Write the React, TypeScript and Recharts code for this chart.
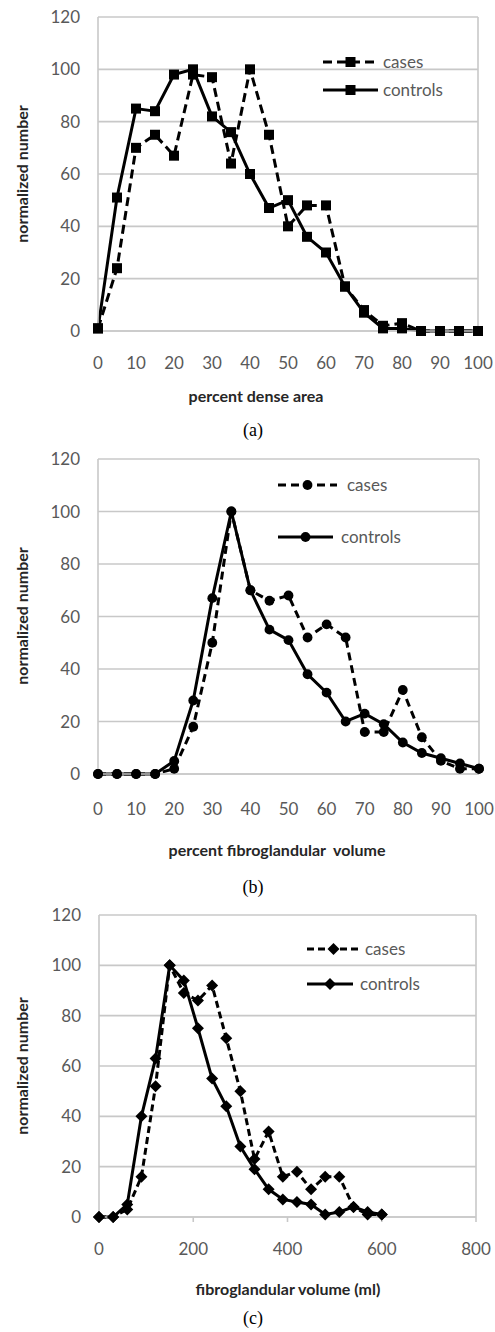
import React from "react";
import {
  LineChart,
  Line,
  XAxis,
  YAxis,
  CartesianGrid,
  ReferenceLine,
  Legend,
} from "recharts";

// (a) percent dense area
const denseArea = [0, 5, 10, 15, 20, 25, 30, 35, 40, 45, 50, 55, 60, 65, 70, 75, 80, 85, 90, 95, 100];
const denseCases = [1, 24, 70, 75, 67, 98, 97, 64, 100, 75, 40, 48, 48, 17, 8, 2, 3, 0, 0, 0, 0];
const denseControls = [1, 51, 85, 84, 98, 100, 82, 76, 60, 47, 50, 36, 30, 17, 7, 1, 1, 0, 0, 0, 0];

// (b) percent fibroglandular volume
const fibroPct = [0, 5, 10, 15, 20, 25, 30, 35, 40, 45, 50, 55, 60, 65, 70, 75, 80, 85, 90, 95, 100];
const fibroCases = [0, 0, 0, 0, 2, 18, 50, 100, 70, 66, 68, 52, 57, 52, 16, 16, 32, 14, 5, 2, 2];
const fibroControls = [0, 0, 0, 0, 5, 28, 67, 100, 70, 55, 51, 38, 31, 20, 23, 19, 12, 8, 6, 4, 2];

// (c) fibroglandular volume (ml)
const volumeMl = [0, 30, 60, 90, 120, 150, 180, 210, 240, 270, 300, 330, 360, 390, 420, 450, 480, 510, 540, 570, 600];
const volumeCases = [0, 0, 3, 16, 52, 100, 89, 86, 92, 71, 50, 23, 34, 16, 18, 11, 16, 16, 4, 1, 1];
const volumeControls = [0, 0, 5, 40, 63, 100, 94, 75, 55, 44, 28, 19, 11, 7, 6, 5, 1, 2, 4, 2, 1];

const pctTicks = [0, 10, 20, 30, 40, 50, 60, 70, 80, 90, 100];
const mlTicks = [0, 200, 400, 600, 800];
const yTicks = [0, 20, 40, 60, 80, 100, 120];

const W = 495;
const FONT = "Lato, 'Open Sans', sans-serif";
const GRID = "#c8c8c8";

type Marker = "square" | "circle" | "diamond";

function mark(kind: Marker, cx: number, cy: number, key?: string) {
  if (kind === "square") {
    return <rect key={key} x={cx - 5} y={cy - 5} width={10} height={10} fill="#000" />;
  }
  if (kind === "circle") {
    return <circle key={key} cx={cx} cy={cy} r={4.9} fill="#000" />;
  }
  const s = 6;
  return (
    <polygon
      key={key}
      points={`${cx},${cy - s} ${cx + s},${cy} ${cx},${cy + s} ${cx - s},${cy}`}
      fill="#000"
    />
  );
}

interface LegendRow {
  x0: number;
  x1: number;
  tx: number;
  y: number;
}

interface PanelProps {
  top: number;
  height: number;
  plotTop: number;
  plotBottom: number;
  left: number;
  right: number;
  xs: number[];
  cases: number[];
  controls: number[];
  xMax: number;
  xTicks: number[];
  marker: Marker;
  dash: string;
  tickMargin: number;
  xTickLine: boolean;
  legendCases: LegendRow;
  legendControls: LegendRow;
  title: string;
  titleX: number;
  titleY: number;
  caption: string;
  captionY: number;
  yLabelY: number;
}

function Panel(p: PanelProps) {
  const rows = p.xs.map((x, i) => ({ x, cases: p.cases[i], controls: p.controls[i] }));
  const legend = () => (
    <svg width={W} height={p.height} style={{ display: "block" }}>
      {[
        { r: p.legendCases, dash: p.dash, label: "cases" },
        { r: p.legendControls, dash: undefined, label: "controls" },
      ].map((it) => (
        <g key={it.label}>
          <line
            x1={it.r.x0}
            x2={it.r.x1}
            y1={it.r.y}
            y2={it.r.y}
            stroke="#000"
            strokeWidth={3}
            strokeDasharray={it.dash}
          />
          {mark(p.marker, (it.r.x0 + it.r.x1) / 2, it.r.y)}
          <text
            x={it.r.tx}
            y={it.r.y + 6}
            fontSize={17}
            fontFamily={FONT}
            fill="#595959"
          >
            {it.label}
          </text>
        </g>
      ))}
    </svg>
  );

  return (
    <div style={{ position: "absolute", left: 0, top: p.top, width: W, height: p.height }}>
      <LineChart
        width={W}
        height={p.height}
        data={rows}
        margin={{ top: p.plotTop, right: p.right, left: 0, bottom: 0 }}
      >
        <CartesianGrid vertical={false} stroke={GRID} strokeWidth={1.6} />
        <XAxis
          dataKey="x"
          type="number"
          domain={[0, p.xMax]}
          ticks={p.xTicks}
          interval={0}
          height={p.height - p.plotBottom}
          axisLine={{ stroke: GRID, strokeWidth: 1.6 }}
          tickLine={p.xTickLine ? { stroke: GRID, strokeWidth: 1.6 } : false}
          tickSize={p.xTickLine ? 5 : 6}
          tickMargin={p.tickMargin}
          tick={{ fontSize: 17, fill: "#595959", fontFamily: FONT }}
        />
        <YAxis
          type="number"
          domain={[0, 120]}
          ticks={yTicks}
          interval={0}
          width={p.left}
          axisLine={{ stroke: GRID, strokeWidth: 1.6 }}
          tickLine={false}
          tickMargin={12}
          tick={{ fontSize: 17, fill: "#595959", fontFamily: FONT }}
        />
        <ReferenceLine x={p.xMax} stroke={GRID} strokeWidth={1.6} />
        <Legend
          layout="horizontal"
          verticalAlign="middle"
          align="center"
          content={legend}
          wrapperStyle={{ position: "absolute", left: 0, top: 0, width: W, height: p.height, pointerEvents: "none" }}
        />
        <Line
          dataKey="cases"
          stroke="#000"
          strokeWidth={3}
          strokeDasharray={p.dash}
          isAnimationActive={false}
          dot={(d: any) => mark(p.marker, d.cx, d.cy, `c-${d.index}`)}
        />
        <Line
          dataKey="controls"
          stroke="#000"
          strokeWidth={3}
          isAnimationActive={false}
          dot={(d: any) => mark(p.marker, d.cx, d.cy, `k-${d.index}`)}
        />
      </LineChart>
      <div
        style={{
          position: "absolute",
          left: 21,
          top: p.yLabelY,
          transform: "translate(-50%, -50%) rotate(-90deg)",
          whiteSpace: "nowrap",
          fontFamily: FONT,
          fontWeight: 700,
          fontSize: 16,
          color: "#262626",
        }}
      >
        normalized number
      </div>
      <div
        style={{
          position: "absolute",
          left: p.titleX,
          top: p.titleY,
          transform: "translate(-50%, -50%)",
          whiteSpace: "pre",
          fontFamily: FONT,
          fontWeight: 700,
          fontSize: 16,
          color: "#262626",
        }}
      >
        {p.title}
      </div>
      <div
        style={{
          position: "absolute",
          left: 253,
          top: p.captionY,
          transform: "translate(-50%, -50%)",
          fontFamily: "'Liberation Serif', serif",
          fontSize: 18,
          color: "#000",
        }}
      >
        {p.caption}
      </div>
    </div>
  );
}

export default function App() {
  return (
    <div style={{ position: "absolute", left: 0, top: 0, width: W, height: 1332, background: "#fff" }}>
      <Panel
        top={0}
        height={440}
        plotTop={17}
        plotBottom={331}
        left={98}
        right={17}
        xs={denseArea}
        cases={denseCases}
        controls={denseControls}
        xMax={100}
        xTicks={pctTicks}
        marker="square"
        dash="9 5"
        tickMargin={20}
        xTickLine={false}
        legendCases={{ x0: 323, x1: 378, tx: 383, y: 62 }}
        legendControls={{ x0: 323, x1: 378, tx: 383, y: 90 }}
        title="percent dense area"
        titleX={256}
        titleY={395}
        caption="(a)"
        captionY={430}
        yLabelY={174}
      />
      <Panel
        top={440}
        height={455}
        plotTop={19}
        plotBottom={334}
        left={98}
        right={16}
        xs={fibroPct}
        cases={fibroCases}
        controls={fibroControls}
        xMax={100}
        xTicks={pctTicks}
        marker="circle"
        dash="8 5"
        tickMargin={23}
        xTickLine={false}
        legendCases={{ x0: 278, x1: 337, tx: 347, y: 45 }}
        legendControls={{ x0: 278, x1: 333, tx: 341, y: 97 }}
        title={"percent fibroglandular  volume"}
        titleX={277}
        titleY={409}
        caption="(b)"
        captionY={447}
        yLabelY={176}
      />
      <Panel
        top={895}
        height={437}
        plotTop={20}
        plotBottom={322}
        left={99}
        right={19}
        xs={volumeMl}
        cases={volumeCases}
        controls={volumeControls}
        xMax={800}
        xTicks={mlTicks}
        marker="diamond"
        dash="7 4"
        tickMargin={21}
        xTickLine={true}
        legendCases={{ x0: 307, x1: 360, tx: 365, y: 54 }}
        legendControls={{ x0: 307, x1: 353, tx: 360, y: 89 }}
        title="fibroglandular volume (ml)"
        titleX={288}
        titleY={393}
        caption="(c)"
        captionY={423}
        yLabelY={171}
      />
    </div>
  );
}
